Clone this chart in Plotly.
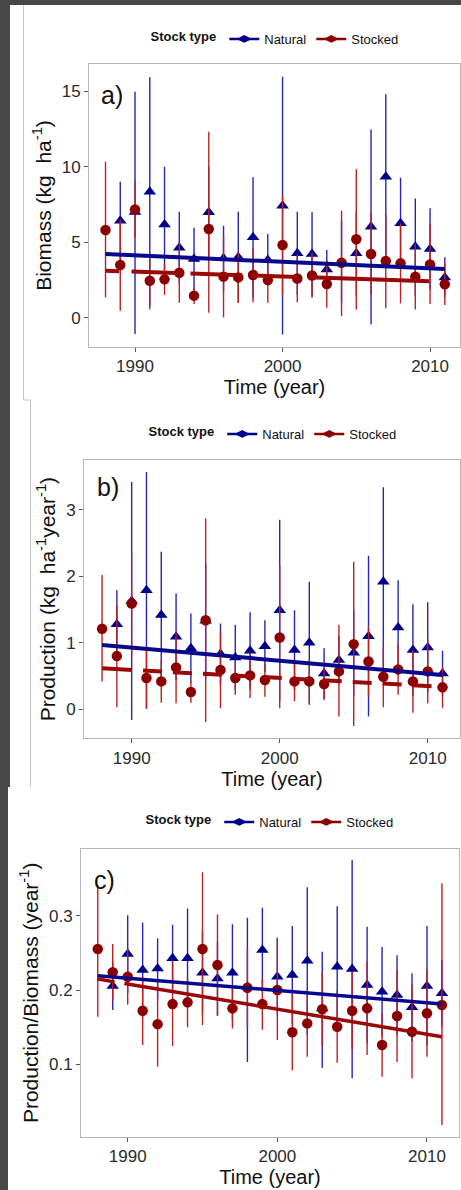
import plotly.graph_objects as go

# ---------------- data ----------------
years_stk = list(range(1988, 2012))
years_nat = list(range(1989, 2012))

# a) Biomass (kg ha-1)
bio_nat = [6.42, 7.0, 8.34, 6.18, 4.64, 3.89, 6.98, 3.93, 4.0, 5.32, 3.82, 7.42,
           4.26, 4.22, 3.2, 3.6, 4.26, 6.03, 9.34, 6.25, 4.7, 4.55, 2.67]
bio_nat_lo = [3.84, -1.08, 0.76, 2.36, 2.26, 1.82, 4.0, 1.77, 0.98, 1.34, 2.1, -1.12,
              1.5, 1.4, 1.9, 1.0, 1.5, -0.45, 3.9, 3.23, 1.5, 1.86, 1.34]
bio_nat_hi = [9.0, 14.97, 15.92, 10.0, 7.02, 5.96, 10.0, 6.09, 7.02, 9.3, 5.54, 15.96,
              7.02, 7.0, 4.48, 6.4, 7.0, 12.47, 14.8, 9.27, 7.9, 7.24, 4.0]
bio_stk = [5.81, 3.49, 7.17, 2.45, 2.54, 2.98, 1.46, 5.87, 2.72, 2.67, 2.83, 2.49,
           4.81, 2.6, 2.8, 2.23, 3.64, 5.19, 4.22, 3.75, 3.6, 2.72, 3.53, 2.21]
bio_stk_lo = [1.35, 0.46, 5.3, 0.55, 1.5, 0.99, 0.9, 0.33, 0.02, 1.0, 1.02, 0.99,
              1.5, 1.02, 1.32, 0.66, 0.11, 0.55, 1.5, 0.62, 0.95, 0.55, 0.9, 0.84]
bio_stk_hi = [10.33, 6.5, 9.1, 4.35, 3.58, 4.97, 2.0, 12.32, 5.4, 4.3, 4.64, 4.0,
              8.1, 4.2, 4.3, 3.8, 7.09, 9.83, 7.0, 6.9, 6.25, 4.9, 6.2, 3.58]

# b) Production (kg ha-1 year-1)
prod_nat = [1.28, 1.63, 1.79, 1.42, 1.09, 0.92, 1.33, 0.83, 0.78, 0.88, 0.95, 1.49,
            0.89, 1.0, 0.54, 0.74, 0.85, 1.1, 1.92, 1.23, 0.89, 0.93, 0.54]
prod_nat_lo = [0.77, -0.16, 0.01, 0.47, 0.44, 0.4, 0.46, 0.37, 0.29, 0.3, 0.56, 0.13,
               0.29, 0.07, 0.16, 0.38, 0.2, -0.11, 0.5, 0.52, 0.2, 0.25, 0.2]
prod_nat_hi = [1.79, 3.42, 3.57, 2.37, 1.74, 1.44, 2.2, 1.29, 1.27, 1.46, 1.34, 2.85,
               1.49, 1.92, 0.92, 1.1, 1.5, 2.31, 3.34, 1.94, 1.58, 1.61, 0.88]
prod_stk = [1.21, 0.8, 1.59, 0.47, 0.42, 0.63, 0.26, 1.34, 0.59, 0.47, 0.51, 0.44,
            1.08, 0.42, 0.42, 0.38, 0.57, 0.98, 0.72, 0.49, 0.6, 0.42, 0.57, 0.33]
prod_stk_lo = [0.42, 0.03, 0.81, 0.015, 0.1, 0.09, 0.1, -0.19, 0.015, 0.22, 0.17, 0.19,
               0.015, 0.12, 0.1, 0.14, -0.11, -0.25, 0.2, 0.03, 0.22, -0.05, 0.09, 0.025]
prod_stk_hi = [2.02, 1.57, 2.37, 0.93, 0.74, 1.17, 0.42, 2.87, 1.17, 0.72, 0.85, 0.69,
               2.17, 0.72, 0.74, 0.62, 1.27, 2.22, 1.24, 0.95, 0.98, 0.89, 1.05, 0.64]

# c) Production/Biomass (year-1)
pb_nat = [0.2054, 0.2486, 0.227, 0.229, 0.243, 0.243, 0.2234, 0.2157, 0.2234, 0.2045,
          0.254, 0.218, 0.2202, 0.2395, 0.175, 0.2315, 0.2283, 0.2067, 0.1977, 0.1933,
          0.1767, 0.2054, 0.1955]
pb_nat_lo = [0.173, 0.196, 0.163, 0.188, 0.198, 0.176, 0.167, 0.166, 0.158, 0.103,
             0.197, 0.166, 0.154, 0.14, 0.095, 0.15, 0.081, 0.128, 0.137, 0.14,
             0.131, 0.125, 0.15]
pb_nat_hi = [0.238, 0.301, 0.291, 0.27, 0.288, 0.31, 0.28, 0.265, 0.2886, 0.2975,
             0.311, 0.27, 0.2863, 0.3385, 0.2517, 0.313, 0.3753, 0.2854, 0.258, 0.247,
             0.2225, 0.2863, 0.24]
pb_stk = [0.2553, 0.2239, 0.218, 0.172, 0.154, 0.181, 0.1834, 0.2553, 0.2337, 0.1753,
          0.203, 0.181, 0.2, 0.143, 0.155, 0.174, 0.1505, 0.172, 0.1753, 0.1258,
          0.165, 0.1438, 0.1686, 0.1798]
pb_stk_lo = [0.164, 0.186, 0.18, 0.126, 0.0966, 0.1245, 0.1497, 0.153, 0.165, 0.148,
             0.15, 0.1465, 0.1326, 0.0917, 0.11, 0.125, 0.102, 0.12, 0.1123, 0.083,
             0.103, 0.081, 0.11, 0.018]
pb_stk_hi = [0.3416, 0.262, 0.256, 0.218, 0.211, 0.238, 0.217, 0.3587, 0.302, 0.203,
             0.256, 0.216, 0.271, 0.194, 0.2, 0.223, 0.199, 0.224, 0.238, 0.169,
             0.227, 0.207, 0.227, 0.344]

# fitted trends, values at the first and last year
trend_years = [1988, 2011]
bio_trend_nat = [4.22, 3.22]
bio_trend_stk = [3.11, 2.38]
prod_trend_nat = [0.967, 0.516]
prod_trend_stk = [0.617, 0.338]
pb_trend_nat = [0.2193, 0.1811]
pb_trend_stk = [0.2148, 0.137]

x_ticks = [1990, 2000, 2010]

# ---------------- styling ----------------
W, H = 461, 1190
FONT = "Liberation Sans, Arial, Helvetica, sans-serif"
NAT_COL = "#00008B"
STK_COL = "#8B0000"
NAT_BAR = "#2626b8"
STK_BAR = "#bb2222"
NAT_LINE = "#08088f"
STK_LINE = "#9a0808"
BG_DARK = "#474747"
FRAME = "#b5b5b5"


def fx(px):
    return px / W


def fy(py):
    return 1 - py / H


def err(mean, lo, hi):
    plus = [h - m for m, h in zip(mean, hi)]
    minus = [m - l for m, l in zip(mean, lo)]
    return plus, minus


fig = go.Figure()

panels = [
    dict(xa="x", ya="y", leg="legend",
         nat=(bio_nat, bio_nat_lo, bio_nat_hi), stk=(bio_stk, bio_stk_lo, bio_stk_hi),
         tn=bio_trend_nat, ts=bio_trend_stk,
         dash="13.7px,12.3px,44px,15px,51.7px,10px,45px,12px,120px,40px", lw=4),
    dict(xa="x2", ya="y2", leg="legend2",
         nat=(prod_nat, prod_nat_lo, prod_nat_hi), stk=(prod_stk, prod_stk_lo, prod_stk_hi),
         tn=prod_trend_nat, ts=prod_trend_stk,
         dash="30px,11px" + ",19px,11px" * 10 + ",4px,30px", lw=4),
    dict(xa="x3", ya="y3", leg="legend3",
         nat=(pb_nat, pb_nat_lo, pb_nat_hi), stk=(pb_stk, pb_stk_lo, pb_stk_hi),
         tn=pb_trend_nat, ts=pb_trend_stk,
         dash="17px,10px,340px,40px", lw=3.5),
]

for p in panels:
    m, lo, hi = p["nat"]
    plus, minus = err(m, lo, hi)
    fig.add_trace(go.Scatter(
        x=years_nat, y=m, mode="markers", xaxis=p["xa"], yaxis=p["ya"],
        marker=dict(symbol="triangle-up", size=11, color=NAT_COL),
        error_y=dict(type="data", array=plus, arrayminus=minus, width=0,
                     thickness=1.4, color=NAT_BAR),
        showlegend=False, hoverinfo="skip"))
    m, lo, hi = p["stk"]
    plus, minus = err(m, lo, hi)
    fig.add_trace(go.Scatter(
        x=years_stk, y=m, mode="markers", xaxis=p["xa"], yaxis=p["ya"],
        marker=dict(symbol="circle", size=10.5, color=STK_COL),
        error_y=dict(type="data", array=plus, arrayminus=minus, width=0,
                     thickness=1.4, color=STK_BAR),
        showlegend=False, hoverinfo="skip"))
    fig.add_trace(go.Scatter(
        x=trend_years, y=p["tn"], mode="lines", xaxis=p["xa"], yaxis=p["ya"],
        line=dict(color=NAT_LINE, width=p["lw"]), showlegend=False, hoverinfo="skip"))
    fig.add_trace(go.Scatter(
        x=trend_years, y=p["ts"], mode="lines", xaxis=p["xa"], yaxis=p["ya"],
        line=dict(color=STK_LINE, width=p["lw"], dash=p["dash"]),
        showlegend=False, hoverinfo="skip"))
    # legend keys
    fig.add_trace(go.Scatter(
        x=[None], y=[None], mode="lines+markers", name="Natural", legend=p["leg"],
        xaxis=p["xa"], yaxis=p["ya"],
        line=dict(color=NAT_COL, width=2.5),
        marker=dict(symbol="diamond-wide", size=11, color=NAT_COL)))
    fig.add_trace(go.Scatter(
        x=[None], y=[None], mode="lines+markers", name="Stocked", legend=p["leg"],
        xaxis=p["xa"], yaxis=p["ya"],
        line=dict(color=STK_COL, width=2.5),
        marker=dict(symbol="diamond-wide", size=11, color=STK_COL)))

axis_common = dict(showgrid=False, zeroline=False, showline=True, linecolor=FRAME,
                   linewidth=1, mirror=True, ticks="outside", ticklen=4,
                   tickcolor="#555555", tickwidth=1,
                   tickfont=dict(family=FONT, size=17, color="#2b2b2b"))
title_font = dict(family=FONT, size=21, color="#111111")
xtitle_font = dict(family=FONT, size=20, color="#111111")

legend_common = dict(orientation="h", xanchor="center", yanchor="middle",
                     bgcolor="rgba(0,0,0,0)", itemwidth=30, tracegroupgap=0,
                     font=dict(family=FONT, size=13, color="#111111"),
                     title=dict(text="<b>Stock type</b>", side="left",
                                font=dict(family=FONT, size=13, color="#111111")))

fig.update_layout(
    width=W, height=H, margin=dict(l=0, r=0, t=0, b=0),
    paper_bgcolor=BG_DARK, plot_bgcolor="white",
    font=dict(family=FONT),
    xaxis=dict(domain=[fx(89), fx(460)], range=[1986.88, 2012.03], anchor="y",
               tickvals=x_ticks, title=dict(text="Time (year)", font=xtitle_font, standoff=2),
               **axis_common),
    yaxis=dict(domain=[fy(347), fy(64)], range=[-1.94, 16.80], anchor="x",
               tickvals=[0, 5, 10, 15],
               title=dict(text="Biomass (kg  ha<sup>-1</sup>)", font=title_font, standoff=4),
               **axis_common),
    xaxis2=dict(domain=[fx(84), fx(460)], range=[1986.78, 2012.18], anchor="y2",
                tickvals=x_ticks, title=dict(text="Time (year)", font=xtitle_font, standoff=2),
                **axis_common),
    yaxis2=dict(domain=[fy(738.3), fy(460)], range=[-0.436, 3.749], anchor="x2",
                tickvals=[0, 1, 2, 3],
                title=dict(text="Production (kg  ha<sup>-1</sup>year<sup>-1</sup>)",
                           font=title_font, standoff=4),
                **axis_common),
    xaxis3=dict(domain=[fx(81), fx(459)], range=[1986.88, 2012.14], anchor="y3",
                tickvals=x_ticks, title=dict(text="Time (year)", font=xtitle_font, standoff=2),
                **axis_common),
    yaxis3=dict(domain=[fy(1136.7), fy(849)], range=[0.0022, 0.3902], anchor="x3",
                tickvals=[0.1, 0.2, 0.3], ticktext=["0.1", "0.2", "0.3"],
                title=dict(text="Production/Biomass (year<sup>-1</sup>)",
                           font=title_font, standoff=4),
                **axis_common),
    legend=dict(x=fx(276), y=fy(39), **legend_common),
    legend2=dict(x=fx(274), y=fy(434), **legend_common),
    legend3=dict(x=fx(271), y=fy(822), **legend_common),
)

# white page areas behind each panel, with their thin frame lines
shapes = [
    dict(type="rect", xref="paper", yref="paper", x0=fx(10), x1=1, y0=fy(400), y1=fy(5),
         fillcolor="white", line=dict(width=0), layer="below"),
    dict(type="rect", xref="paper", yref="paper", x0=fx(10), x1=1, y0=fy(787), y1=fy(400),
         fillcolor="white", line=dict(width=0), layer="below"),
    dict(type="rect", xref="paper", yref="paper", x0=fx(8), x1=1, y0=0, y1=fy(787),
         fillcolor="white", line=dict(width=0), layer="below"),
    dict(type="line", xref="paper", yref="paper", x0=fx(23.5), x1=fx(23.5), y0=fy(400), y1=fy(5),
         line=dict(color="#c4c4c4", width=1), layer="below"),
    dict(type="line", xref="paper", yref="paper", x0=fx(23.5), x1=fx(30.5), y0=fy(400), y1=fy(400),
         line=dict(color="#c4c4c4", width=1), layer="below"),
    dict(type="line", xref="paper", yref="paper", x0=fx(30.5), x1=fx(30.5), y0=fy(787), y1=fy(400),
         line=dict(color="#c4c4c4", width=1), layer="below"),
]
fig.update_layout(shapes=shapes)

# panel letters
for label, xp, yp in [("a)", 112, 95), ("b)", 107.5, 487), ("c)", 104.5, 880)]:
    fig.add_annotation(text=label, xref="paper", yref="paper", x=fx(xp), y=fy(yp),
                       xanchor="center", yanchor="middle", showarrow=False,
                       font=dict(family=FONT, size=25, color="#111111"))

fig.write_html("out.html")
